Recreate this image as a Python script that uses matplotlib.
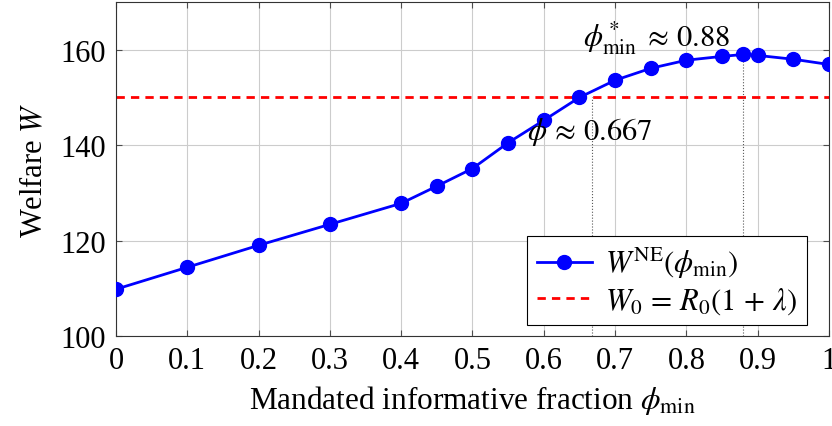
import numpy as np
import matplotlib.pyplot as plt

plt.rcParams['font.family'] = 'Liberation Serif'
plt.rcParams['mathtext.fontset'] = 'stix'

phi = [0, 0.1, 0.2, 0.3, 0.4, 0.45, 0.5, 0.55, 0.6, 0.65, 0.7, 0.75, 0.8, 0.85, 0.88, 0.9, 0.95, 1.0]
W_ne = [109.8, 114.4, 119.0, 123.4, 127.8, 131.4, 135.1, 140.5, 145.2, 150.0, 153.6, 156.1, 157.8, 158.6, 159.0, 158.8, 158.0, 156.9]
W0 = 150
phi_bar = 0.667
phi_star = 0.88
W_star = 159.0

fs = 22

fig = plt.figure(figsize=(8.32, 4.27), dpi=100)
ax = fig.add_axes([0.1394, 0.2108, 0.8570, 0.7822])

ax.plot(phi, W_ne, color='blue', lw=2, marker='o', ms=10, label=r'$W^{\mathrm{NE}}(\phi_{\min})$', zorder=3)
ax.axhline(W0, color='red', ls=(0, (3, 2.2)), lw=2, label=r'$W_0\, =\, R_0(1\, +\, \lambda)$', zorder=2)
ax.plot([phi_bar, phi_bar], [100, W0], color='0.35', ls=':', lw=0.8)
ax.plot([phi_star, phi_star], [100, W_star], color='0.35', ls=':', lw=0.8)

ax.text(0.758, 162.7, r'$\phi^*_{\min}\;\approx\,0.88$', fontsize=fs, ha='center', va='center')
ax.text(0.665, 142.9, r'$\phi\,\approx\,0.667$', fontsize=fs, ha='center', va='center')

ax.set_xlim(0, 1)
ax.set_ylim(100, 170)
ax.set_xticks([0, 0.1, 0.2, 0.3, 0.4, 0.5, 0.6, 0.7, 0.8, 0.9, 1])
ax.set_xticklabels(['0', '0.1', '0.2', '0.3', '0.4', '0.5', '0.6', '0.7', '0.8', '0.9', '1'])
ax.set_yticks([100, 120, 140, 160])
ax.grid(True, color='0.8', lw=0.8)
ax.set_axisbelow(True)
ax.tick_params(direction='in', top=True, right=True, labelsize=fs, length=4, color='0.3')
ax.tick_params(axis='x', pad=7)
ax.tick_params(axis='y', pad=7)
for s in ax.spines.values():
    s.set_color('0.2')
ax.set_xlabel(r'Mandated informative fraction $\phi_{\min}$', fontsize=fs + 0.5, labelpad=6)
ax.set_ylabel(r'Welfare $W$', fontsize=fs, labelpad=8)

leg = ax.legend(loc='lower right', bbox_to_anchor=(0.969, 0.033), fontsize=fs, fancybox=False,
                edgecolor='black', framealpha=1, borderpad=0.3, handlelength=1.8, labelspacing=0.15,
                handletextpad=0.45, borderaxespad=0)
leg.get_frame().set_linewidth(0.8)

fig.savefig('out.png', dpi=100)
